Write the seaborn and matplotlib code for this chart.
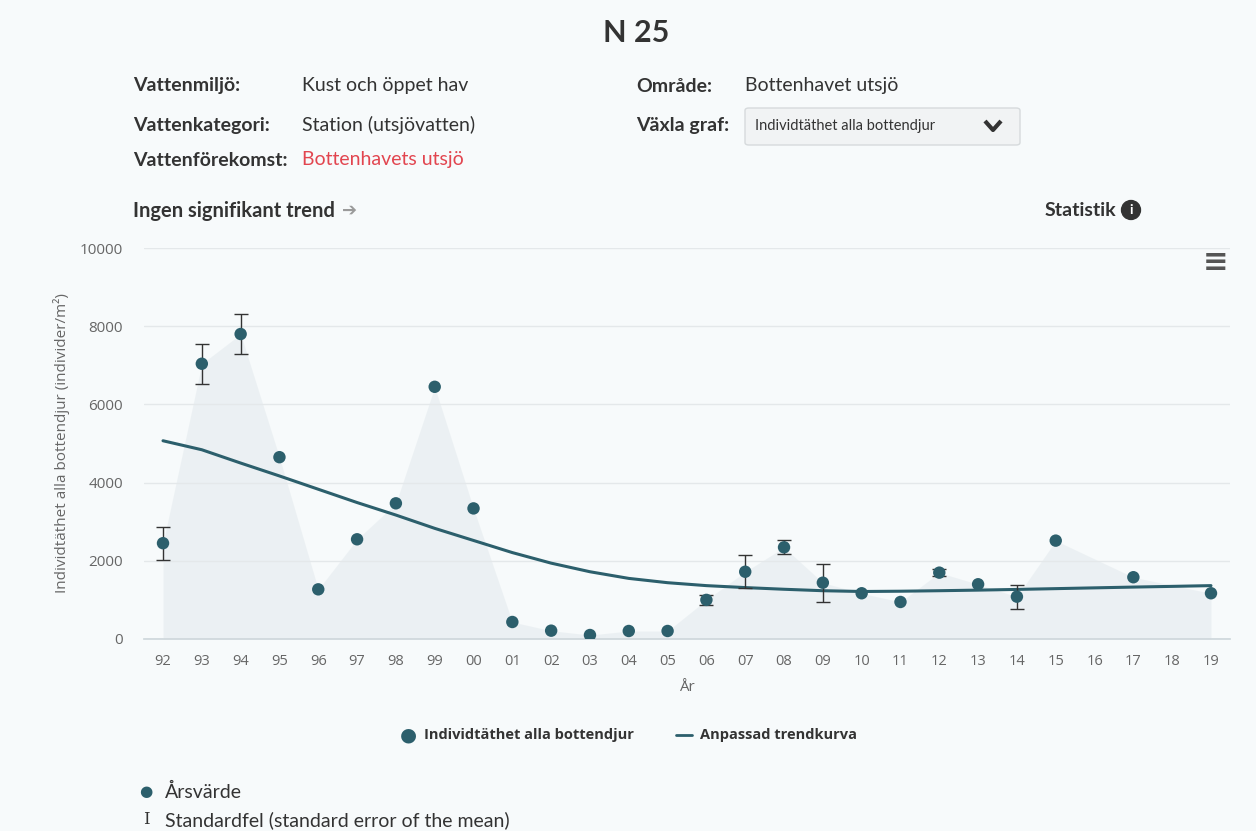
#!/usr/bin/env python3
"""
N 25 - individtäthet alla bottendjur, Bottenhavet utsjö
"""

import numpy as np
import pandas as pd
import matplotlib.pyplot as plt
import seaborn as sns
from matplotlib.patches import FancyBboxPatch

# Data
years = ['92', '93', '94', '95', '96', '97', '98', '99', '00', '01', '02', '03', '04', '05',
         '06', '07', '08', '09', '10', '11', '12', '13', '14', '15', '16', '17', '18', '19']
values = [2450, 7040, 7800, 4650, 1270, 2550, 3470, 6450, 3340, 435, 213, 102, 205, 205,
          1000, 1720, 2345, 1440, 1170, 947, 1697, 1400, 1083, 2516, np.nan, 1580, np.nan, 1170]
std_err = [425, 510, 500, 0, 0, 0, 0, 0, 0, 0, 0, 0, 0, 0,
           130, 420, 180, 490, 0, 0, 90, 0, 310, 0, 0, 0, 0, 0]
trend = [5070, 4840, 4500, 4170, 3830, 3490, 3170, 2830, 2520, 2210, 1940, 1720, 1550, 1440,
         1365, 1315, 1272, 1235, 1215, 1222, 1235, 1250, 1268, 1288, 1308, 1328, 1346, 1365]

DOT = '#2c5f6c'
BG = '#f7fafb'
GREY = '#666666'
DARK = '#333333'


def fx(px):
    return px / 1256


def fy(py):
    return 1 - py / 831


def main():
    sns.set_theme(style='white')
    plt.rcParams['font.family'] = ['Lato', 'DejaVu Sans']

    df = pd.DataFrame({'year': years, 'value': values, 'se': std_err, 'trend': trend})
    df['pos'] = np.arange(len(df))

    fig = plt.figure(figsize=(12.56, 8.31), dpi=100, facecolor=BG)
    ax = fig.add_axes([fx(143.6), fy(639), fx(1230.4 - 143.6), (639 - 248) / 831])
    ax.set_facecolor(BG)

    # faint background area following the yearly values
    ok = df['value'].notna()
    ax.fill_between(df.loc[ok, 'pos'], 0, df.loc[ok, 'value'], color='#e1e8ec', alpha=0.5,
                    lw=0, zorder=0)

    # trend curve
    sns.lineplot(data=df, x='pos', y='trend', ax=ax, color=DOT, lw=2.2, zorder=3, legend=False)

    # standard errors
    err = df[(df['se'] > 0) & ok]
    ax.errorbar(err['pos'], err['value'], yerr=err['se'], fmt='none', ecolor=DARK,
                elinewidth=1, capsize=5, capthick=1, zorder=4)

    # yearly values
    sns.scatterplot(data=df[ok], x='pos', y='value', ax=ax, color=DOT, s=80,
                    edgecolor='none', zorder=5, legend=False)

    ax.set_xlim(-0.5, len(years) - 0.5)
    ax.set_ylim(0, 10000)
    ax.set_yticks([0, 2000, 4000, 6000, 8000, 10000])
    ax.set_yticklabels(['0', '2000', '4000', '6000', '8000', '10000'],
                       fontfamily='Open Sans', fontsize=11, color=GREY)
    ax.set_xticks(df['pos'])
    ax.set_xticklabels(years, fontfamily='Open Sans', fontsize=10.5, color=GREY)
    ax.set_xticks(np.arange(len(years) + 1) - 0.5, minor=True)
    ax.tick_params(axis='x', which='major', length=0, pad=11)
    ax.tick_params(axis='x', which='minor', length=10, color='#cfd8dc', width=1)
    ax.tick_params(axis='y', length=0, pad=15)
    ax.grid(axis='y', color='#e4e8ea', lw=1)
    for side in ['top', 'right', 'left']:
        ax.spines[side].set_visible(False)
    ax.spines['bottom'].set_color('#cfd8dc')
    ax.set_xlabel('År', fontfamily='Open Sans', fontsize=11, color=GREY, labelpad=8)
    ax.set_ylabel('Individtäthet alla bottendjur (individer/m²)', fontfamily='Open Sans',
                  fontsize=11, color=GREY, labelpad=7)

    # header
    fig.text(0.5065, fy(33), 'N 25', ha='center', va='center', fontsize=22,
             fontweight='bold', color=DARK)
    rows = [
        (86, 'Vattenmiljö:', 'Kust och öppet hav', DARK),
        (125, 'Vattenkategori:', 'Station (utsjövatten)', DARK),
        (160, 'Vattenförekomst:', 'Bottenhavets utsjö', '#e2454f'),
    ]
    for y, label, text, col in rows:
        fig.text(fx(133), fy(y), label, ha='left', va='center', fontsize=14,
                 fontweight='bold', color=DARK)
        fig.text(fx(302), fy(y), text, ha='left', va='center', fontsize=14, color=col)
    fig.text(fx(636), fy(86), 'Område:', ha='left', va='center', fontsize=14,
             fontweight='bold', color=DARK)
    fig.text(fx(745), fy(86), 'Bottenhavet utsjö', ha='left', va='center',
             fontsize=14, color=DARK)
    fig.text(fx(636), fy(125), 'Växla graf:', ha='left', va='center', fontsize=14,
             fontweight='bold', color=DARK)
    box = FancyBboxPatch((fx(745), fy(145)), fx(275), 37 / 831,
                         boxstyle='round,pad=0,rounding_size=0.003', transform=fig.transFigure,
                         facecolor='#f1f3f4', edgecolor='#d6dadc', lw=1)
    fig.patches.append(box)
    fig.text(fx(755), fy(126), 'Individtäthet alla bottendjur', ha='left',
             va='center', fontsize=10.5, color=DARK)
    fig.lines.append(plt.Line2D([fx(985), fx(993), fx(1001)], [fy(121), fy(130), fy(121)],
                                transform=fig.transFigure, color=DARK, lw=3,
                                solid_capstyle='butt'))

    fig.text(fx(133), fy(211), 'Ingen signifikant trend', ha='left', va='center',
             fontsize=14.5, fontweight='bold', color=DARK)
    fig.text(fx(342), fy(211), '➔', ha='left', va='center', fontsize=13,
             color='#9a9a9a', family='DejaVu Sans')
    fig.text(fx(1116), fy(210), 'Statistik', ha='right', va='center', fontsize=14,
             fontweight='bold', color=DARK)
    fig.text(fx(1131), fy(210), 'i', ha='center', va='center', fontsize=10,
             fontweight='bold', color='white',
             bbox=dict(boxstyle='circle,pad=0.25', fc=DARK, ec=DARK))
    fig.text(fx(1215), fy(263), '≡', ha='center', va='center', fontsize=22,
             fontweight='bold', color='#555555', family='DejaVu Sans')

    # legend
    fig.text(fx(408), fy(735), '●', ha='center', va='center', fontsize=14,
             color=DOT, family='DejaVu Sans')
    fig.text(fx(424), fy(735), 'Individtäthet alla bottendjur', ha='left',
             va='center', fontsize=10.5, fontweight='bold', color=DARK, family='Open Sans')
    fig.lines.append(plt.Line2D([fx(676), fx(692)], [fy(735), fy(735)],
                                transform=fig.transFigure, color=DOT, lw=2))
    fig.text(fx(700), fy(735), 'Anpassad trendkurva', ha='left', va='center',
             fontsize=10.5, fontweight='bold', color=DARK, family='Open Sans')

    fig.text(fx(146), fy(792), '●', ha='center', va='center', fontsize=11,
             color=DOT, family='DejaVu Sans')
    fig.text(fx(165), fy(792), 'Årsvärde', ha='left', va='center', fontsize=14,
             color=DARK)
    fig.text(fx(146), fy(820), 'I', ha='center', va='center', fontsize=12,
             color=DARK, family='DejaVu Serif')
    fig.text(fx(165), fy(820), 'Standardfel (standard error of the mean)',
             ha='left', va='center', fontsize=14, color=DARK)

    fig.savefig('out.png', dpi=100, facecolor=BG)
    plt.close(fig)


if __name__ == '__main__':
    main()
